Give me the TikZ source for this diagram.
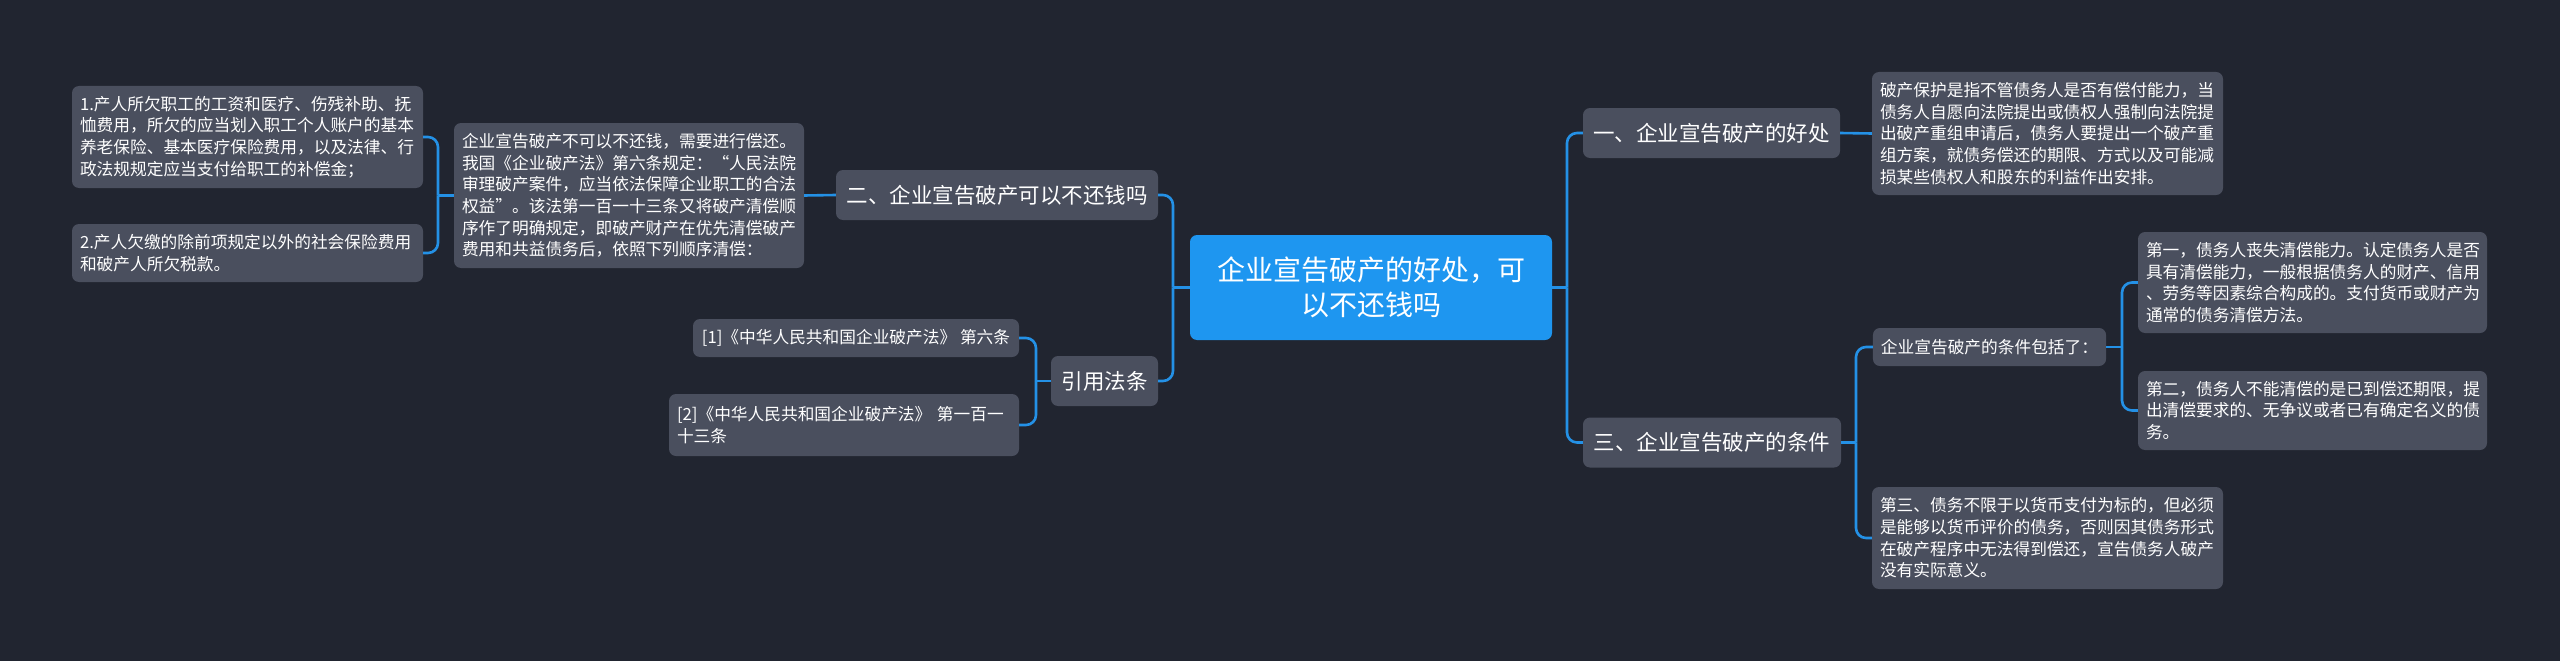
\documentclass[tikz,border=0pt]{standalone}
\usepackage{fontspec}
\setmainfont{Noto Sans CJK SC}
\definecolor{bgc}{HTML}{212530}
\definecolor{boxc}{HTML}{4A4F5E}
\definecolor{mainc}{HTML}{1E96F0}
\definecolor{linec}{HTML}{2491E6}
\newcommand\szD{\fontsize{16.7pt}{21.7pt}\selectfont}
\newcommand\szM{\fontsize{21.5pt}{26pt}\selectfont}
\newcommand\szC{\fontsize{28pt}{35pt}\selectfont}
\begin{document}
\begin{tikzpicture}[x=1pt,y=-1pt,
  box/.style={fill=boxc, rounded corners=7pt, text=white, inner xsep=8pt, inner ysep=3pt, anchor=center},
  dbox/.style={box, font=\szD, align=left},
  mbox/.style={box, font=\szM, align=center, minimum height=50pt},
  conn/.style={draw=linec, line width=2.6pt, rounded corners=10pt}]
\useasboundingbox (0,0) rectangle (2560,661);
\fill[bgc] (0,0) rectangle (2560,661);

% central node
\node[fill=mainc, rounded corners=7pt, text=white, font=\szC, align=center,
      minimum width=362pt, minimum height=105pt] (c) at (1371,287.5)
  {企业宣告破产的好处，可\\以不还钱吗};

% right side
\node[mbox, minimum width=257pt] (n1) at (1711.5,133) {一、企业宣告破产的好处};
\node[mbox, minimum width=258pt] (n3) at (1712,442.5) {三、企业宣告破产的条件};

\node[dbox, text width=335pt, minimum height=123pt] (n1d) at (2047.5,133.5)
  {破产保护是指不管债务人是否有偿付能力，当\\债务人自愿向法院提出或债权人强制向法院提\\出破产重组申请后，债务人要提出一个破产重\\组方案，就债务偿还的期限、方式以及可能减\\损某些债权人和股东的利益作出安排。};

\node[dbox, minimum width=233pt, minimum height=38pt] (n3a) at (1989.5,347)
  {企业宣告破产的条件包括了：};

\node[dbox, text width=333pt, minimum height=101pt] (n3a1) at (2312.5,282.5)
  {第一，债务人丧失清偿能力。认定债务人是否\\具有清偿能力，一般根据债务人的财产、信用\\、劳务等因素综合构成的。支付货币或财产为\\通常的债务清偿方法。};
\node[dbox, text width=333pt, minimum height=79pt] (n3a2) at (2312.5,410.5)
  {第二，债务人不能清偿的是已到偿还期限，提\\出清偿要求的、无争议或者已有确定名义的债\\务。};

\node[dbox, text width=335pt, minimum height=102pt] (n3b) at (2047.5,538)
  {第三、债务不限于以货币支付为标的，但必须\\是能够以货币评价的债务，否则因其债务形式\\在破产程序中无法得到偿还，宣告债务人破产\\没有实际意义。};

% left side
\node[mbox, minimum width=322pt] (n2) at (997,195) {二、企业宣告破产可以不还钱吗};
\node[mbox, minimum width=107pt] (ref) at (1104.5,381) {引用法条};

\node[dbox, text width=334pt, minimum height=145pt] (n2d) at (629,195.5)
  {企业宣告破产不可以不还钱，需要进行偿还。\\我国《企业破产法》第六条规定：“人民法院\\审理破产案件，应当依法保障企业职工的合法\\权益”。该法第一百一十三条又将破产清偿顺\\序作了明确规定，即破产财产在优先清偿破产\\费用和共益债务后，依照下列顺序清偿：};

\node[dbox, text width=335pt, minimum height=102pt] (n2d1) at (247.5,137)
  {1.产人所欠职工的工资和医疗、伤残补助、抚\\恤费用，所欠的应当划入职工个人账户的基本\\养老保险、基本医疗保险费用，以及法律、行\\政法规规定应当支付给职工的补偿金；};
\node[dbox, text width=335pt, minimum height=58pt] (n2d2) at (247.5,253)
  {2.产人欠缴的除前项规定以外的社会保险费用\\和破产人所欠税款。};

\node[dbox, minimum width=326pt, minimum height=38pt] (r1) at (856,338)
  {[1]《中华人民共和国企业破产法》 第六条};
\node[dbox, text width=334pt, minimum height=62pt] (r2) at (844,425)
  {[2]《中华人民共和国企业破产法》 第一百一\\十三条};

% junction coordinates
\coordinate (jr) at (1567,287.5);
\coordinate (jl) at (1173,287.5);
\coordinate (j3) at (1856,442.5);
\coordinate (j3a) at (2122,347);
\coordinate (j2) at (438,195.5);
\coordinate (jref) at (1036,381);

% connectors
\draw[conn] (c.east) -- (jr);
\draw[conn] (jr) |- (n1.west);
\draw[conn] (jr) |- (n3.west);
\draw[conn] (n1.east) -- (n1d.west);
\draw[conn] (n3.east) -- (j3);
\draw[conn] (j3) |- (n3a.west);
\draw[conn] (j3) |- (n3b.west);
\draw[conn] (n3a.east) -- (j3a);
\draw[conn] (j3a) |- (n3a1.west);
\draw[conn] (j3a) |- (n3a2.west);

\draw[conn] (c.west) -- (jl);
\draw[conn] (jl) |- (n2.east);
\draw[conn] (jl) |- (ref.east);
\draw[conn] (n2.west) -- (n2d.east);
\draw[conn] (n2d.west) -- (j2);
\draw[conn] (j2) |- (n2d1.east);
\draw[conn] (j2) |- (n2d2.east);
\draw[conn] (ref.west) -- (jref);
\draw[conn] (jref) |- (r1.east);
\draw[conn] (jref) |- (r2.east);
\end{tikzpicture}
\end{document}
